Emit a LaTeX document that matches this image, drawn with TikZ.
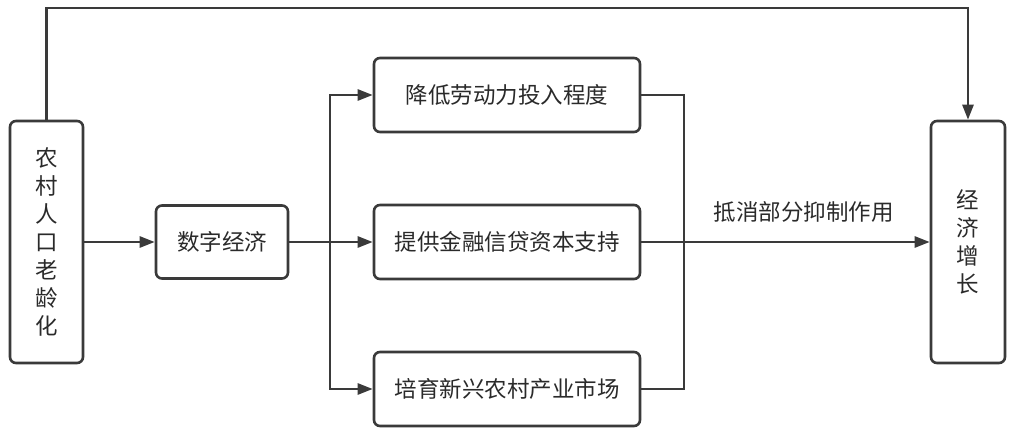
\documentclass[tikz,border=0pt]{standalone}
\usepackage{fontspec}
\usepackage{xcolor}
\usetikzlibrary{positioning,arrows.meta}
\newfontfamily\cjk{Noto Sans CJK SC}
\definecolor{linegray}{HTML}{3A3A3A}
\definecolor{textgray}{HTML}{2A2A2A}
\tikzset{
box/.style={draw=linegray,line width=2.6pt,rounded corners=6pt,align=center,inner sep=0pt,text=textgray,font={\cjk\fontsize{22.5}{28}\selectfont}},
widebox/.style={box,minimum width=266pt,minimum height=74pt},
tallbox/.style={box,minimum width=73pt,minimum height=242pt},
link/.style={draw=linegray,line width=2.6pt},
arr/.style={link,-{Triangle[length=15pt,width=11pt]}}
}
\begin{document}
\begin{tikzpicture}[x=1pt,y=-1pt]
\useasboundingbox (0,0) rectangle (1011,429);
\node[tallbox] (aging) at (46.5,242) {农\\村\\人\\口\\老\\龄\\化};
\node[box,minimum width=132pt,minimum height=73pt] (digital) at (222,242) {数字经济};
\node[widebox] (labor) at (507,95) {降低劳动力投入程度};
\node[widebox] (credit) at (507,242) {提供金融信贷资本支持};
\node[widebox] (market) at (507,389) {培育新兴农村产业市场};
\node[tallbox,minimum width=74pt] (growth) at (968,242) {经\\济\\增\\长};
\coordinate (top) at (500,8);
\coordinate (fork) at (330,242);
\coordinate (join) at (684,242);
\draw[arr] (aging.north) |- (top) -| (growth.north);
\draw[arr] (aging.east) -- (digital.west);
\draw[arr] (digital.east) -- (credit.west);
\draw[arr] (fork) |- (labor.west);
\draw[arr] (fork) |- (market.west);
\draw[link] (labor.east) -| (join) |- (market.east);
\draw[arr] (credit.east) -- node[pos=0.564,anchor=south,yshift=15pt,text=textgray,font={\cjk\fontsize{22.5}{28}\selectfont}] (effect) {抵消部分抑制作用} (growth.west);
\end{tikzpicture}
\end{document}
